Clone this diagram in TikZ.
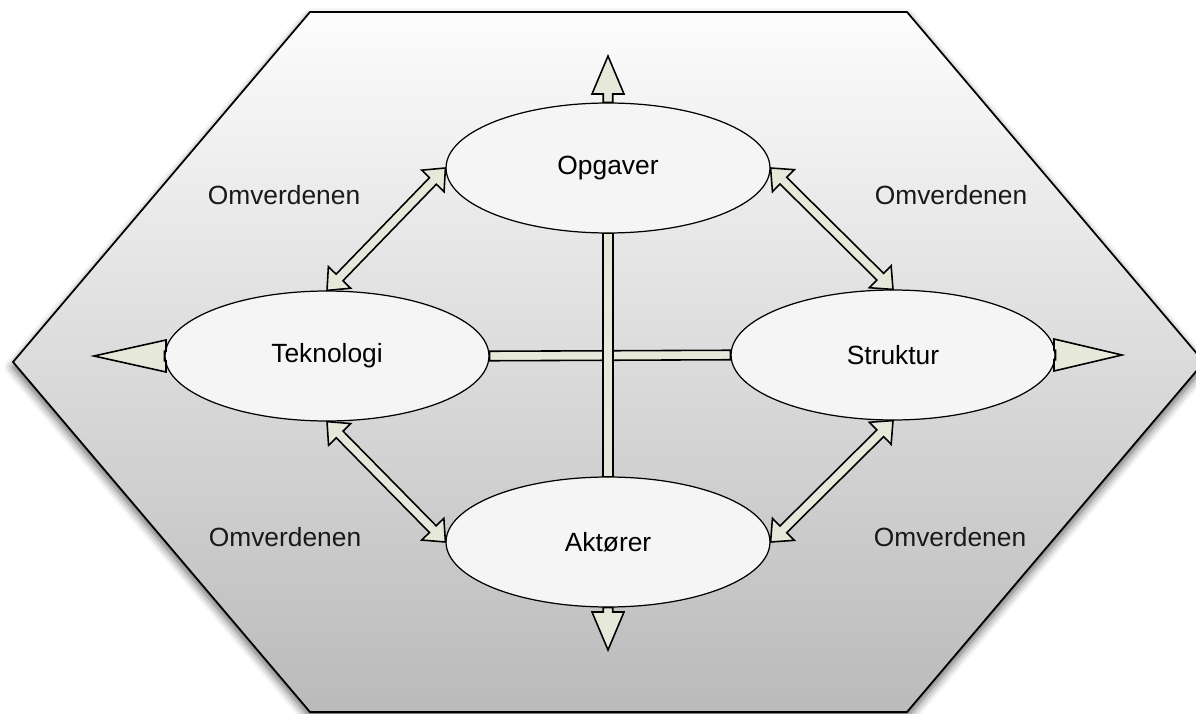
\documentclass[tikz,border=0pt]{standalone}
\usepackage{fontspec}
\setmainfont{Liberation Sans}
\usepackage{tikz}
\usetikzlibrary{positioning,calc,shapes.geometric,shadows.blur}
\tikzstyle{hexa} = [draw=black, line width=1pt, line join=miter, top color=black!1, bottom color=black!27, blur shadow={shadow xshift=0pt, shadow yshift=-3pt, shadow blur radius=5pt, shadow opacity=65}]
\tikzstyle{area} = [ellipse, draw=black, line width=0.7pt, fill=black!4, minimum width=6.48cm, minimum height=2.6cm, inner sep=0pt, font=\fontsize{15}{18}\selectfont]
\tikzstyle{omv} = [font=\fontsize{15}{18}\selectfont, text=black!90]
\tikzstyle{connector} = [draw=black, line width=0.9pt, line join=miter, fill=arrowfill]

% hollow arrow with a head at both ends
\newcommand{\bothways}[2]{%
  \coordinate (ta) at ($(#1)!0.36cm!(#2)$);
  \coordinate (tb) at ($(#2)!0.36cm!(#1)$);
  \draw[connector] (#1) -- ($(ta)!0.31cm!90:(#2)$) -- ($(ta)!0.095cm!90:(#2)$) -- ($(tb)!0.095cm!90:(#2)$) -- ($(tb)!0.31cm!90:(#2)$) -- (#2) -- ($(tb)!0.31cm!-90:(#2)$) -- ($(tb)!0.095cm!-90:(#2)$) -- ($(ta)!0.095cm!-90:(#2)$) -- ($(ta)!0.31cm!-90:(#2)$) -- cycle;}
% hollow arrow pointing out of a node, #3 = head length
\newcommand{\outward}[3]{%
  \coordinate (tb) at ($(#2)!#3!(#1)$);
  \draw[connector] ($(#1)!0.095cm!90:(#2)$) -- ($(tb)!0.095cm!90:(#2)$) -- ($(tb)!0.32cm!90:(#2)$) -- (#2) -- ($(tb)!0.32cm!-90:(#2)$) -- ($(tb)!0.095cm!-90:(#2)$) -- ($(#1)!0.095cm!-90:(#2)$) -- cycle;}
% plain hollow bar
\newcommand{\crossbar}[2]{%
  \draw[connector] ($(#1)!0.095cm!90:(#2)$) -- ($(#2)!0.095cm!-90:(#1)$) -- ($(#2)!0.095cm!90:(#1)$) -- ($(#1)!0.095cm!-90:(#2)$) -- cycle;}

\begin{document}
\begin{tikzpicture}[x=0.02cm, y=-0.02cm]
\definecolor{arrowfill}{RGB}{230,233,218}
\useasboundingbox (0,0) rectangle (1196,713);

% the surroundings
\draw[hexa] (310,12) -- (907,12) -- (1204,362) -- (907,712) -- (310,712) -- (13,362) -- cycle;

\node[area] (opgaver) at (608,168) {Opgaver};
\node[area] (teknologi) at (327,356) {Teknologi};
\node[area] (struktur) at (893,355) {Struktur};
\node[area] (aktorer) at (608,542) {Aktører};

\node[omv] (omvNW) at (284,195) {Omverdenen};
\node[omv] (omvNE) at (951,195) {Omverdenen};
\node[omv] (omvSW) at (285,537) {Omverdenen};
\node[omv] (omvSE) at (950,537) {Omverdenen};

\coordinate (upTip) at (608,56);
\coordinate (downTip) at (608,650);
\coordinate (leftTip) at (94,356);
\coordinate (rightTip) at (1122,355);

% the cross in the middle
\crossbar{teknologi.east}{struktur.west}
\crossbar{opgaver.south}{aktorer.north}

\bothways{teknologi.north}{opgaver.west}
\bothways{opgaver.east}{struktur.north}
\bothways{teknologi.south}{aktorer.west}
\bothways{aktorer.east}{struktur.south}

\outward{opgaver.north}{upTip}{0.76cm}
\outward{aktorer.south}{downTip}{0.76cm}
\outward{teknologi.west}{leftTip}{1.44cm}
\outward{struktur.east}{rightTip}{1.36cm}
\end{tikzpicture}
\end{document}
